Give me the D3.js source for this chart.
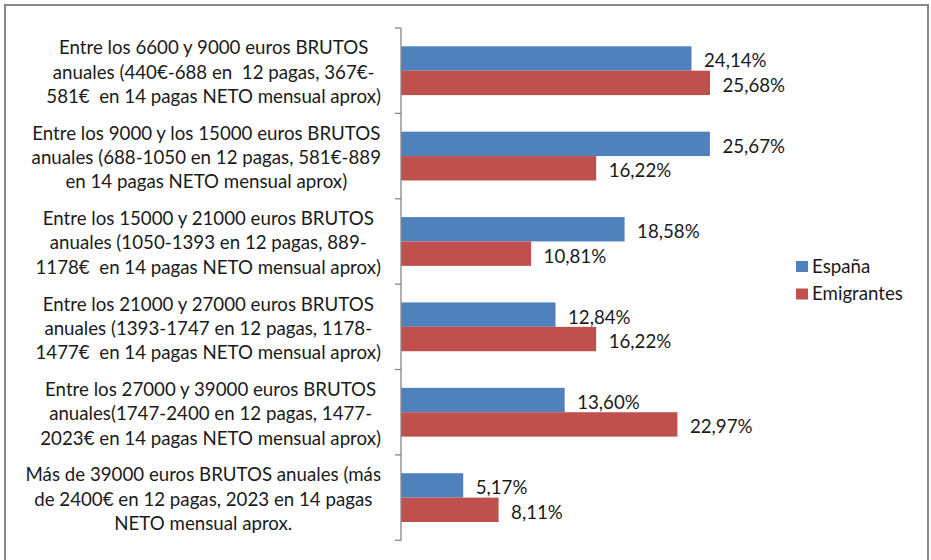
<!DOCTYPE html>
<html>
<head>
<meta charset="utf-8">
<script src="https://cdn.jsdelivr.net/npm/d3@7"></script>
<style>
  html, body { margin: 0; padding: 0; background: #fff; }
  svg text { font-family: Lato, "Open Sans", sans-serif; fill: #1a1a1a; }
</style>
</head>
<body>
<svg id="chart" width="931" height="560"></svg>
<script>
// ---- data ----
const categories = [
  ["Entre los 6600 y 9000 euros BRUTOS", "anuales (440€-688 en  12 pagas, 367€-", "581€  en 14 pagas NETO mensual aprox)"],
  ["Entre los 9000 y los 15000 euros BRUTOS", "anuales (688-1050 en 12 pagas, 581€-889", "en 14 pagas NETO mensual aprox)"],
  ["Entre los 15000 y 21000 euros BRUTOS", "anuales (1050-1393 en 12 pagas, 889-", "1178€  en 14 pagas NETO mensual aprox)"],
  ["Entre los 21000 y 27000 euros BRUTOS", "anuales (1393-1747 en 12 pagas, 1178-", "1477€  en 14 pagas NETO mensual aprox)"],
  ["Entre los 27000 y 39000 euros BRUTOS", "anuales(1747-2400 en 12 pagas, 1477-", "2023€ en 14 pagas NETO mensual aprox)"],
  ["Más de 39000 euros BRUTOS anuales (más", "de 2400€ en 12 pagas, 2023 en 14 pagas", "NETO mensual aprox."]
];
const seriesNames = ["España", "Emigrantes"];
const espana = [24.14, 25.67, 18.58, 12.84, 13.60, 5.17];
const emigrantes = [25.68, 16.22, 10.81, 16.22, 22.97, 8.11];
const colors = ["#4F81BD", "#C0504D"];

// ---- layout ----
const svg = d3.select("#chart");
const plot = { left: 401, right: 762, top: 28, bottom: 540.3 };
const fontSize = 18.7;

svg.append("rect")
  .attr("x", 5).attr("y", 5).attr("width", 923).attr("height", 570)
  .attr("fill", "none").attr("stroke", "#878787").attr("stroke-width", 2);

const x = d3.scaleLinear().domain([0, 30]).range([plot.left, plot.right]);
const y = d3.scaleBand().domain(d3.range(categories.length))
  .range([plot.top, plot.bottom]).paddingInner(1.5 / 3.5).paddingOuter(0.75 / 3.5);
const ySub = d3.scaleBand().domain(d3.range(seriesNames.length)).range([0, y.bandwidth()]);
const step = y.step();

const rows = categories.map((c, i) => ({ i, vals: [espana[i], emigrantes[i]] }));

// bars
const g = svg.append("g");
rows.forEach(r => {
  r.vals.forEach((v, s) => {
    const yy = y(r.i) + ySub(s);
    g.append("rect")
      .attr("x", x(0)).attr("y", yy)
      .attr("width", x(v) - x(0)).attr("height", ySub.bandwidth())
      .attr("fill", colors[s]);
    g.append("text")
      .attr("x", x(v) + 12.5)
      .attr("y", yy + ySub.bandwidth() / 2 + 9)
      .attr("font-size", fontSize)
      .text(v.toFixed(2).replace(".", ",") + "%");
  });
});

// axis line and ticks at category boundaries
const axisG = svg.append("g").attr("stroke", "#868686").attr("stroke-width", 1.3);
axisG.append("line").attr("x1", plot.left).attr("x2", plot.left)
  .attr("y1", plot.top).attr("y2", plot.bottom);
d3.range(categories.length + 1).forEach(k => {
  const yy = plot.top + k * step;
  axisG.append("line").attr("x1", plot.left - 6).attr("x2", plot.left)
    .attr("y1", yy).attr("y2", yy);
});

// category labels: right-aligned block, lines centered within block
const lineH = 24.3;
categories.forEach((lines, i) => {
  const cy = y(i) + y.bandwidth() / 2;
  const tg = svg.append("g");
  const texts = lines.map((ln, k) => tg.append("text")
    .attr("font-size", fontSize)
    .attr("text-anchor", "middle")
    .style("white-space", "pre")
    .attr("y", cy + 8 + (k - (lines.length - 1) / 2) * lineH)
    .text(ln));
  const maxW = d3.max(texts, t => t.node().getComputedTextLength());
  texts.forEach(t => t.attr("x", 381 - maxW / 2));
});

// legend
seriesNames.forEach((name, s) => {
  const ly = 261 + s * 27.5;
  svg.append("rect").attr("x", 796).attr("y", ly).attr("width", 12).attr("height", 11)
    .attr("fill", colors[s]);
  svg.append("text").attr("x", 812).attr("y", ly + 11.5)
    .attr("font-size", fontSize).text(name);
});
</script>
</body>
</html>
